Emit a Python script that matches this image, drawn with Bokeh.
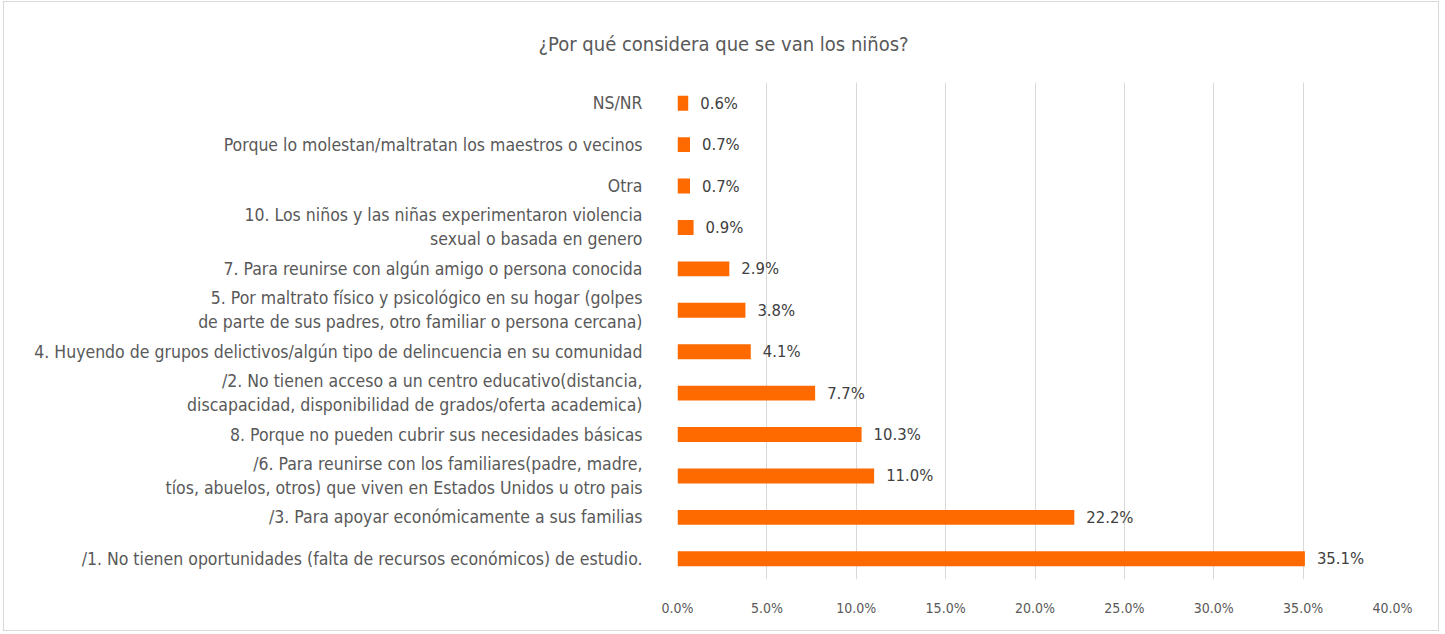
from bokeh.plotting import figure
from bokeh.models import ColumnDataSource, FactorRange, FixedTicker, PrintfTickFormatter, Title
from bokeh.core.properties import value
from bokeh.embed import file_html
from bokeh.resources import INLINE

# bottom to top
categories = [
    "/1. No tienen oportunidades (falta de recursos económicos) de estudio.",
    "/3. Para apoyar económicamente a sus familias",
    "/6. Para reunirse con los familiares(padre, madre,\ntíos, abuelos, otros) que viven en Estados Unidos u otro pais",
    "8. Porque no pueden cubrir sus necesidades básicas",
    "/2. No tienen acceso a un centro educativo(distancia,\ndiscapacidad, disponibilidad de grados/oferta academica)",
    "4. Huyendo de grupos delictivos/algún tipo de delincuencia en su comunidad",
    "5. Por maltrato físico y psicológico en su hogar (golpes\nde parte de sus padres, otro familiar o persona cercana)",
    "7. Para reunirse con algún amigo o persona conocida",
    "10. Los niños y las niñas experimentaron violencia\nsexual o basada en genero",
    "Otra",
    "Porque lo molestan/maltratan los maestros o vecinos",
    "NS/NR",
]
values = [35.1, 22.2, 11.0, 10.3, 7.7, 4.1, 3.8, 2.9, 0.9, 0.7, 0.7, 0.6]
x_ticks = [0, 5, 10, 15, 20, 25, 30, 35, 40]
title_text = "¿Por qué considera que se van los niños?"

FONT = "DejaVu Sans Condensed"
labels = [f"{v:.1f}%" for v in values]
src = ColumnDataSource(dict(cat=categories, val=values, lab=labels))

p = figure(
    width=1436, height=630,
    y_range=FactorRange(factors=categories, range_padding=0),
    x_range=(0, 40),
    output_backend="svg", toolbar_location=None,
    min_border_left=673, min_border_right=48,
    min_border_top=77, min_border_bottom=53,
)
p.styles = {"border": "1px solid #D9D9D9", "margin-left": "3px", "margin-top": "1px"}
p.outline_line_color = None
p.background_fill_color = "white"
p.border_fill_color = "white"

t = Title(text=title_text, align="left", offset=-139, text_font=FONT,
          text_font_size="20px", text_font_style="normal", text_color="#595959",
          standoff=54)
p.add_layout(t, "above")

p.hbar(y="cat", right="val", left=0, height=0.36, source=src,
       fill_color="#FF6A00", line_color=None)
p.text(x="val", y="cat", text="lab", source=src, x_offset=12,
       text_baseline="middle", text_align="left",
       text_font=value(FONT), text_font_size="16.5px", text_color="#404040")

p.xaxis.ticker = FixedTicker(ticks=x_ticks)
p.xaxis.formatter = PrintfTickFormatter(format="%.1f%%")
p.xaxis.axis_line_color = None
p.xaxis.major_tick_line_color = None
p.xaxis.minor_tick_line_color = None
p.xaxis.major_label_text_font = FONT
p.xaxis.major_label_text_font_size = "14px"
p.xaxis.major_label_text_color = "#595959"
p.xaxis.major_label_standoff = 14

p.yaxis.axis_line_color = None
p.yaxis.major_tick_line_color = None
p.yaxis.major_tick_out = 0
p.yaxis.major_label_text_font = FONT
p.yaxis.major_label_text_font_size = "17.5px"
p.yaxis.major_label_text_color = "#595959"
p.yaxis.major_label_standoff = 35

p.xgrid.grid_line_color = "#D9D9D9"
p.xgrid.ticker = FixedTicker(ticks=x_ticks)
p.ygrid.grid_line_color = None

open("out.html", "w").write(file_html(p, INLINE))
